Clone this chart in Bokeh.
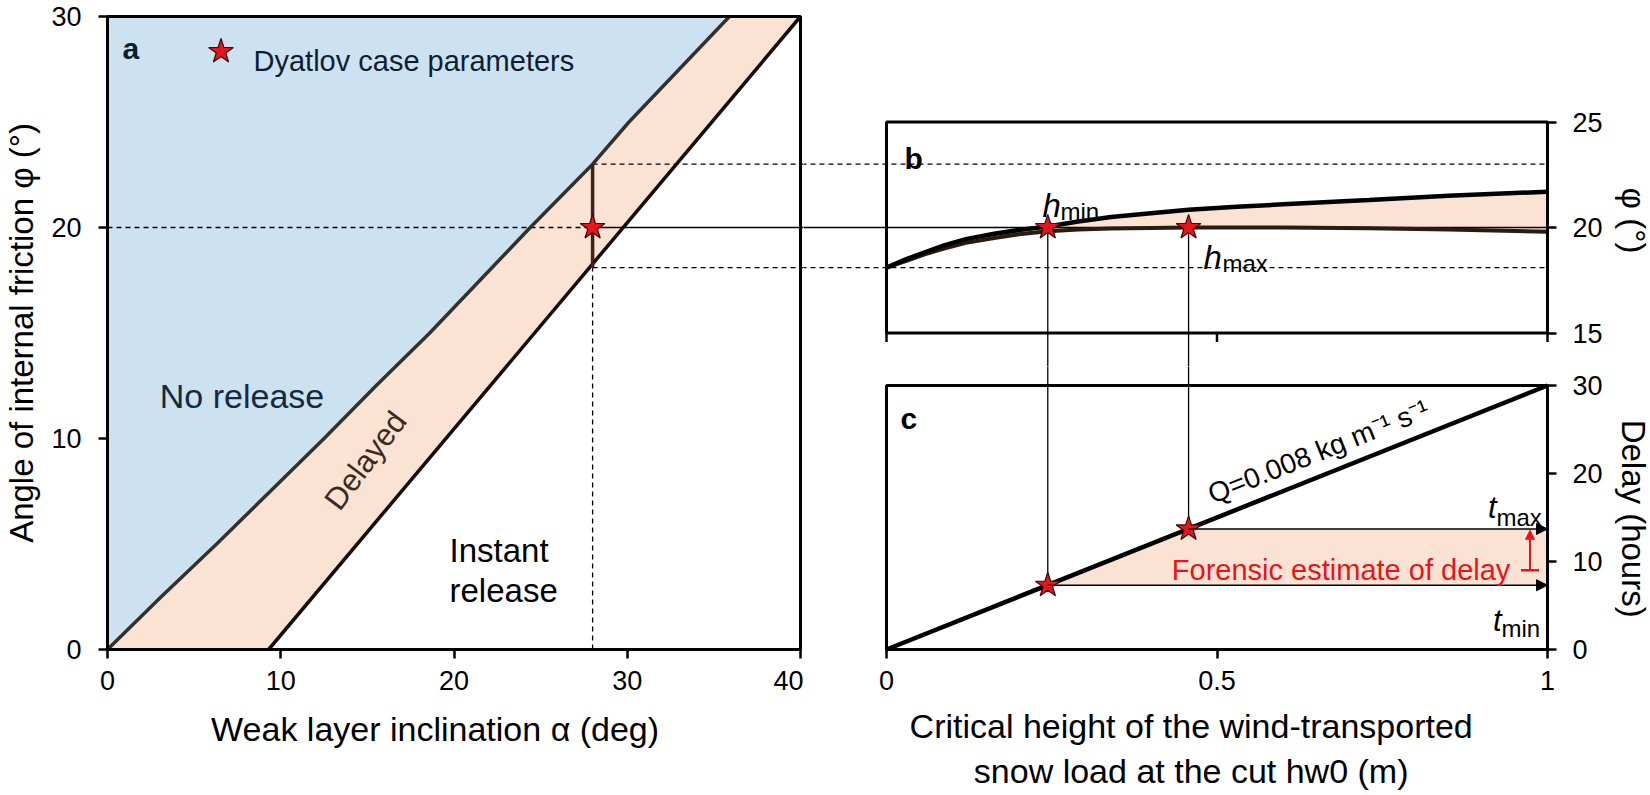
import math
from bokeh.plotting import figure
from bokeh.layouts import row, column
from bokeh.models import (Range1d, LinearAxis, FixedTicker, BoxAnnotation, Label,
                          Arrow, NormalHead, TeeHead)
from bokeh.embed import file_html
from bokeh.resources import INLINE

# ---------------- data ----------------
# panel a: boundaries of the release regimes (alpha = inclination, phi = friction angle)
upper_alpha = [0.0, 3.1, 6.3, 9.4, 12.5, 15.5, 18.6, 21.5, 24.4, 28.0, 30.1, 33.0, 35.9]
upper_phi = [0.0, 2.5, 5.0, 7.5, 10.0, 12.5, 15.0, 17.5, 20.0, 23.0, 25.0, 27.5, 30.0]
lower_alpha = [9.3, 40.0]
lower_phi = [0.0, 30.0]
case_alpha = 28.0
case_phi = 20.0
phi_max = 23.0
phi_min = 18.1

# panel b: friction-angle bounds vs critical height
b_h = [0.0, 0.03, 0.06, 0.087, 0.12, 0.163, 0.2, 0.244, 0.29, 0.34, 0.4, 0.457, 0.53, 0.6, 0.73, 0.85, 1.0]
b_phi_upper = [18.1, 18.5, 18.85, 19.15, 19.45, 19.7, 19.88, 20.05, 20.28, 20.5, 20.68, 20.84, 20.98, 21.1, 21.3, 21.5, 21.7]
b_phi_lower = [18.1, 18.42, 18.75, 19.0, 19.27, 19.5, 19.68, 19.82, 19.9, 19.95, 19.98, 20.0, 20.0, 20.0, 19.97, 19.9, 19.8]
h_min = 0.244
h_max = 0.457

# panel c: delay vs critical height for Q = 0.008 kg m-1 s-1
c_h = [0.0, 1.0]
c_delay = [0.0, 30.0]
t_min = 7.3
t_max = 13.7
forensic_low = 9.0
forensic_high = 13.55

# ticks
a_xticks = [0, 10, 20, 30, 40]
a_yticks = [0, 10, 20, 30]
h_ticks = [0, 0.5, 1]
h_tick_labels = ["0", "0.5", "1"]
b_yticks = [15, 20, 25]
c_yticks = [0, 10, 20, 30]

# ---------------- style ----------------
BLUE = "#cde2f0"
PEACH = "#fbe3d4"
RED = "#e8141c"
STAR_EDGE = "#3a0c0c"
NAVY = "#0d1e33"
FONT = "Liberation Sans"
NB = "\u00a0"

# ---------------- layout (page pixels) ----------------
W_TOTAL, H_TOTAL = 1650, 795
A_L, A_R, A_T, A_B = 105, 798, 16, 649      # border of panel a
BC_L, BC_R = 884, 1545                      # borders of panels b, c (x)
C_T, C_B = 385, 649                         # border of panel c (y)
B_FRAME_T = 74
BC_SPLIT = 366                              # canvas boundary between b and c
PAD = 3

PX_A = (A_R - A_L) / (a_xticks[-1] - a_xticks[0])
PX_PHI = (A_B - A_T) / (a_yticks[-1] - a_yticks[0])
PX_H = BC_R - BC_L
PX_T = (C_B - C_T) / (c_yticks[-1] - c_yticks[0])


def a_x(px):
    return (px - A_L) / PX_A


def a_y(py):
    return (A_B - py) / PX_PHI


def h_x(px):
    return (px - BC_L) / PX_H


def c_y(py):
    return (C_B - py) / PX_T


A_FRAME = (A_L - PAD, A_R + PAD, A_T - PAD, A_B + PAD)
B_FRAME = (A_R + PAD, BC_R + PAD, B_FRAME_T, BC_SPLIT)
C_FRAME = (A_R + PAD, BC_R + PAD, BC_SPLIT, C_B + PAD)


def make_fig(frame, canvas, xr, yr):
    l, r, t, b = frame
    cl, cr, ct, cb = canvas
    f = figure(frame_width=r - l, frame_height=b - t,
               min_border_left=l - cl, min_border_right=cr - r,
               min_border_top=t - ct, min_border_bottom=cb - b,
               x_range=xr, y_range=yr, x_axis_type=None, y_axis_type=None,
               output_backend="svg", toolbar_location=None)
    f.outline_line_color = None
    f.background_fill_color = "white"
    f.border_fill_color = "white"
    return f


fa = make_fig(A_FRAME, (0, A_R + PAD, 0, H_TOTAL),
              Range1d(a_x(A_FRAME[0]), a_x(A_FRAME[1])), Range1d(a_y(A_FRAME[3]), a_y(A_FRAME[2])))
fb = make_fig(B_FRAME, (A_R + PAD, W_TOTAL, 0, BC_SPLIT),
              Range1d(h_x(B_FRAME[0]), h_x(B_FRAME[1])), Range1d(a_y(B_FRAME[3]), a_y(B_FRAME[2])))
fc = make_fig(C_FRAME, (A_R + PAD, W_TOTAL, BC_SPLIT, H_TOTAL),
              Range1d(h_x(C_FRAME[0]), h_x(C_FRAME[1])), Range1d(c_y(C_FRAME[3]), c_y(C_FRAME[2])))


def make_axis(ticks, label, label_size, label_standoff, tick_standoff, overrides=None):
    ax = LinearAxis(ticker=FixedTicker(ticks=ticks))
    if overrides:
        ax.major_label_overrides = overrides
    ax.axis_line_color = None
    ax.major_tick_line_color = "black"
    ax.major_tick_line_width = 2.5
    ax.major_tick_out = 6
    ax.major_tick_in = PAD
    ax.minor_tick_line_color = None
    ax.minor_tick_out = 0
    ax.major_label_text_font = FONT
    ax.major_label_text_font_size = "27px"
    ax.major_label_text_color = "black"
    ax.major_label_standoff = tick_standoff
    ax.axis_label = label
    ax.axis_label_text_font = FONT
    ax.axis_label_text_font_size = f"{label_size}px"
    ax.axis_label_text_font_style = "normal"
    ax.axis_label_text_color = "black"
    ax.axis_label_standoff = label_standoff
    return ax


fa.add_layout(make_axis(a_yticks, "Angle of internal friction \u03c6 (\u00b0)", 33, 8, 17), "left")
fa.add_layout(make_axis(a_xticks, "Weak layer inclination \u03b1 (deg)" + NB * 4, 34, 17, 12), "below")
fb.add_layout(make_axis(b_yticks, "\u03c6 (\u00b0)", 33, 9, 16), "right")
fc.add_layout(make_axis(c_yticks, NB * 2 + "Delay (hours)", 33, 9, 16), "right")
fc.add_layout(make_axis(h_ticks, NB * 3 + "Critical height of the wind-transported\n" +
                        NB * 3 + "snow load at the cut hw0 (m)", 34, 14, 12,
                        overrides={t: s for t, s in zip(h_ticks, h_tick_labels)}), "below")


def lab(f, text, x, y, size, color="black", style="normal", align="left", baseline="alphabetic", angle=0.0):
    f.add_layout(Label(x=x, y=y, text=text, text_font=FONT, text_font_size=f"{size}px",
                       text_font_style=style, text_color=color, text_align=align,
                       text_baseline=baseline, angle=angle))


def star(f, xs, ys):
    f.scatter(xs, ys, marker="star", size=26, fill_color=RED, line_color=STAR_EDGE, line_width=1.2)


FAR = 1e3

# ---------------- panel a ----------------
fa.patch(upper_alpha + [0.0], upper_phi + [a_yticks[-1]], fill_color=BLUE, line_color=None)
fa.patch(upper_alpha + lower_alpha[::-1], upper_phi + lower_phi[::-1], fill_color=PEACH, line_color=None)
fa.segment(x0=[0.0, case_alpha], y0=[case_phi, 0.0], x1=[case_alpha, case_alpha], y1=[case_phi, phi_min],
           line_color="black", line_width=1.3, line_dash="5 4")
fa.segment(x0=[case_alpha, case_alpha], y0=[phi_max, phi_min], x1=[FAR, FAR], y1=[phi_max, phi_min],
           line_color="black", line_width=1.3, line_dash="5 4")
fa.segment(x0=[case_alpha], y0=[case_phi], x1=[FAR], y1=[case_phi], line_color="black", line_width=1.4)
fa.line(upper_alpha, upper_phi, line_color="#35302d", line_width=3.5)
fa.line(lower_alpha, lower_phi, line_color="#140e0a", line_width=3.5)
fa.segment(x0=[case_alpha], y0=[phi_min], x1=[case_alpha], y1=[phi_max], line_color="#3b2418", line_width=3.5)
star(fa, [case_alpha], [case_phi])
star(fa, [a_x(218.5)], [a_y(51)])
fa.add_layout(BoxAnnotation(left=a_xticks[0], right=a_xticks[-1], bottom=a_yticks[0], top=a_yticks[-1],
                            fill_alpha=0, line_color="black", line_alpha=1, line_width=3))
lab(fa, "a", a_x(120), a_y(48), 30, NAVY, "bold")
lab(fa, "Dyatlov case parameters", a_x(251), a_y(60), 29, NAVY)
lab(fa, "No release", a_x(239.5), a_y(395), 34, "#15293f", align="center")
lab(fa, "Delayed", a_x(363), a_y(460), 31, "#3b2a1e", align="center", baseline="middle",
    angle=math.radians(53))
lab(fa, "Instant", a_x(447), a_y(550), 33)
lab(fa, "release", a_x(447), a_y(590), 33)

# ---------------- panel b ----------------
fb.patch(b_h + b_h[::-1], b_phi_upper + b_phi_lower[::-1], fill_color=PEACH, line_color=None)
fb.segment(x0=[-FAR, -FAR], y0=[phi_max, phi_min], x1=[1.0, 1.0], y1=[phi_max, phi_min],
           line_color="black", line_width=1.3, line_dash="5 4")
fb.segment(x0=[-FAR], y0=[case_phi], x1=[1.0], y1=[case_phi], line_color="black", line_width=1.4)
fb.segment(x0=[h_min, h_max], y0=[case_phi, case_phi], x1=[h_min, h_max], y1=[-FAR, -FAR],
           line_color="black", line_width=1.3)
fb.line(b_h, b_phi_lower, line_color="#2a1a10", line_width=4)
fb.line(b_h, b_phi_upper, line_color="black", line_width=4.5)
tick_len = 9 / PX_PHI
fb.segment(x0=h_ticks, y0=[b_yticks[0]] * len(h_ticks), x1=h_ticks, y1=[b_yticks[0] - tick_len] * len(h_ticks),
           line_color="black", line_width=2.5)
star(fb, [h_min, h_max], [case_phi, case_phi])
fb.add_layout(BoxAnnotation(left=0, right=1, bottom=b_yticks[0], top=b_yticks[-1],
                            fill_alpha=0, line_color="black", line_alpha=1, line_width=3))
lab(fb, "b", h_x(902), a_y(158), 30, "black", "bold")
lab(fb, "h", h_x(1040), a_y(205), 33, style="italic")
lab(fb, "min", h_x(1058), a_y(211), 24)
lab(fb, "h", h_x(1201), a_y(257), 33, style="italic")
lab(fb, "max", h_x(1220), a_y(263), 24)

# ---------------- panel c ----------------
fc.patch([h_min, h_max, 1.0, 1.0], [t_min, t_max, t_max, t_min], fill_color=PEACH, line_color=None)
fc.segment(x0=[h_min, h_max], y0=[t_min, t_max], x1=[h_min, h_max], y1=[FAR, FAR],
           line_color="black", line_width=1.3)
fc.line(c_h, c_delay, line_color="black", line_width=4.5)
for hh, tt in [(h_min, t_min), (h_max, t_max)]:
    fc.add_layout(Arrow(x_start=hh, y_start=tt, x_end=1.0, y_end=tt, line_color="black", line_width=1.6,
                        end=NormalHead(size=11, fill_color="black", line_color="black", line_width=1)))
bar_x = h_x(1527.5)
fc.add_layout(Arrow(x_start=bar_x, y_start=forensic_low, x_end=bar_x, y_end=forensic_high,
                    line_color=RED, line_width=2,
                    start=TeeHead(size=18, line_color=RED, line_width=2.5),
                    end=NormalHead(size=9, fill_color=RED, line_color=RED, line_width=1)))
star(fc, [h_min, h_max], [t_min, t_max])
fc.add_layout(BoxAnnotation(left=0, right=1, bottom=c_yticks[0], top=c_yticks[-1],
                            fill_alpha=0, line_color="black", line_alpha=1, line_width=3))
lab(fc, "c", h_x(898), c_y(418), 30, "black", "bold")
q_angle = math.atan2(PX_T * (c_delay[1] - c_delay[0]), PX_H * (c_h[1] - c_h[0]))
lab(fc, "Q=0.008 kg m\u207b\u00b9 s\u207b\u00b9", h_x(1316), c_y(451), 28, align="center",
    baseline="middle", angle=q_angle)
lab(fc, "t", h_x(1494), c_y(507), 31, style="italic", align="right")
lab(fc, "max", h_x(1494), c_y(517), 24)
lab(fc, "t", h_x(1499), c_y(620), 31, style="italic", align="right")
lab(fc, "min", h_x(1499), c_y(628), 24)
lab(fc, "Forensic estimate of delay", h_x(1338.6), c_y(569), 29, RED, align="center")

layout = row(fa, column(fb, fc))
open("out.html", "w").write(file_html(layout, INLINE))
